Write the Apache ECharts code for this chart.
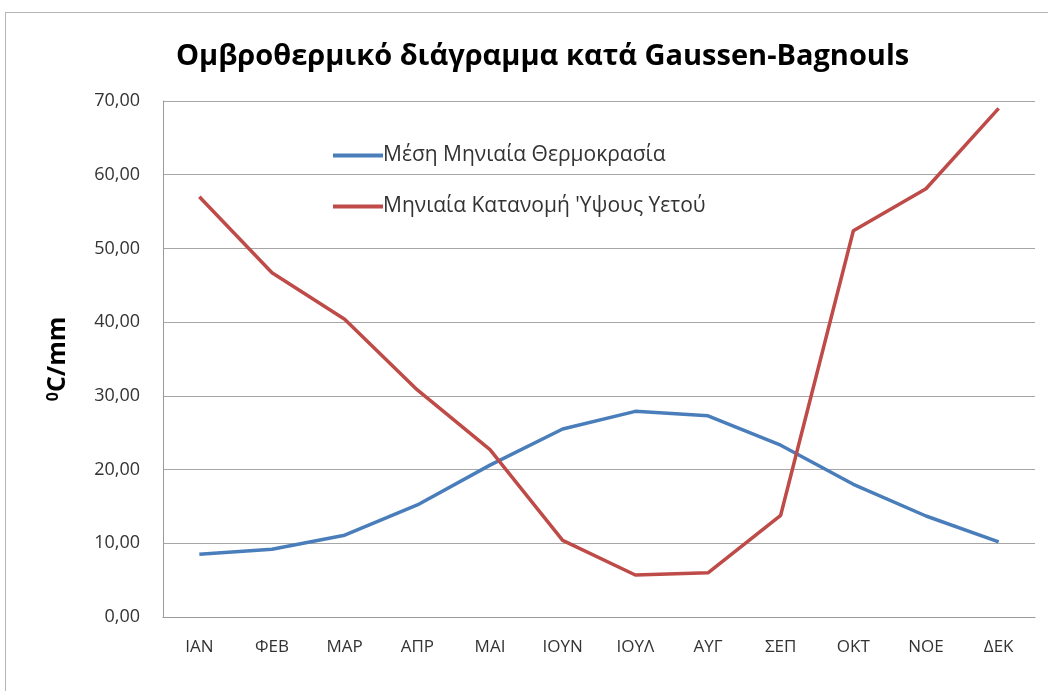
<!DOCTYPE html>
<html>
<head>
<meta charset="utf-8">
<script src="https://cdn.jsdelivr.net/npm/echarts@6/dist/echarts.min.js"></script>
<style>
  html, body { margin: 0; padding: 0; background: #fff; }
  #frame { position: absolute; left: 5px; top: 12px; width: 1100px; height: 800px; border: 1px solid #b5b5b5; }
  #main { position: absolute; left: 0; top: 0; width: 1048px; height: 691px; }
</style>
</head>
<body>
<div id="frame"></div>
<div id="main"></div>
<script>
// μήνες
const months = ['ΙΑΝ', 'ΦΕΒ', 'ΜΑΡ', 'ΑΠΡ', 'ΜΑΙ', 'ΙΟΥΝ', 'ΙΟΥΛ', 'ΑΥΓ', 'ΣΕΠ', 'ΟΚΤ', 'ΝΟΕ', 'ΔΕΚ'];
// Μέση Μηνιαία Θερμοκρασία
const temperature = [8.5, 9.2, 11.1, 15.2, 20.6, 25.5, 27.9, 27.3, 23.3, 18.0, 13.7, 10.2];
// Μηνιαία Κατανομή Ύψους Υετού
const rainfall = [57.0, 46.7, 40.4, 30.8, 22.7, 10.4, 5.7, 6.0, 13.8, 52.4, 58.1, 69.0];

const font = 'Open Sans, Noto Sans, sans-serif';
const chart = echarts.init(document.getElementById('main'));

const option = {
    backgroundColor: 'transparent',
    animation: false,
    title: {
        text: 'Ομβροθερμικό διάγραμμα κατά Gaussen-Bagnouls',
        left: 171,
        top: 37,
        textStyle: { fontFamily: font, fontSize: 29, fontWeight: 'bold', color: '#000' }
    },
    legend: {
        orient: 'vertical',
        left: 328,
        top: 140,
        itemWidth: 50,
        itemHeight: 4,
        itemGap: 30,
        icon: 'rect',
        textStyle: { fontFamily: font, fontSize: 21, color: '#333', padding: [0, 0, 0, -5] },
        data: ['Μέση Μηνιαία Θερμοκρασία', "Μηνιαία Κατανομή 'Υψους Υετού"]
    },
    grid: { left: 163, right: 13, top: 101, bottom: 74 },
    xAxis: {
        type: 'category',
        data: months,
        boundaryGap: true,
        axisLine: { lineStyle: { color: '#9a9a9a', width: 1 } },
        axisTick: { show: false },
        axisLabel: { fontFamily: font, fontSize: 17, color: '#333', margin: 22 }
    },
    yAxis: {
        type: 'value',
        min: 0,
        max: 70,
        interval: 10,
        name: '{s|0}{b|C/mm}',
        nameLocation: 'middle',
        nameRotate: 90,
        nameGap: 92,
        nameTextStyle: {
            rich: {
                s: { fontFamily: font, fontSize: 16, fontWeight: 'bold', color: '#000', verticalAlign: 'top', padding: [0, 0, 10, 0] },
                b: { fontFamily: font, fontSize: 25, fontWeight: 'bold', color: '#000' }
            }
        },
        axisLine: { show: true, lineStyle: { color: '#9a9a9a', width: 1 } },
        axisTick: { show: false },
        splitLine: { lineStyle: { color: '#a6a6a6', width: 1 } },
        axisLabel: {
            fontFamily: font, fontSize: 18, color: '#333', margin: 23,
            formatter: v => v.toFixed(2).replace('.', ',')
        }
    },
    series: [
        {
            name: 'Μέση Μηνιαία Θερμοκρασία',
            type: 'line',
            data: temperature,
            symbol: 'none',
            itemStyle: { color: '#4a7ebb' },
            lineStyle: { color: '#4a7ebb', width: 3.5 }
        },
        {
            name: "Μηνιαία Κατανομή 'Υψους Υετού",
            type: 'line',
            data: rainfall,
            symbol: 'none',
            itemStyle: { color: '#be4b48' },
            lineStyle: { color: '#be4b48', width: 3.5 }
        }
    ]
};

chart.setOption(option);
</script>
</body>
</html>
